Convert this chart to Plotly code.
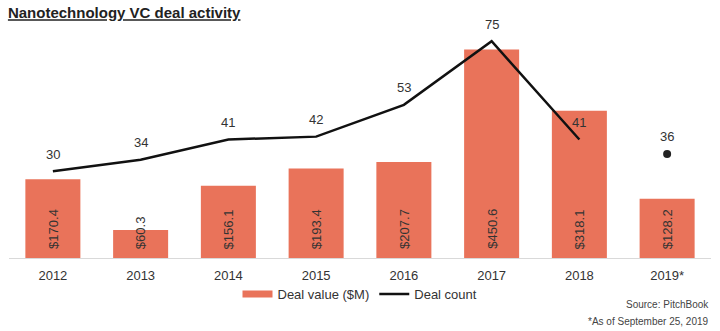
import plotly.graph_objects as go

years = ["2012", "2013", "2014", "2015", "2016", "2017", "2018", "2019*"]
deal_value = [170.4, 60.3, 156.1, 193.4, 207.7, 450.6, 318.1, 128.2]
deal_count = [30, 34, 41, 42, 53, 75, 41, 36]

BAR_COLOR = "#E9735A"
TEXT = "#333333"
FONT = "Liberation Sans, Arial, sans-serif"

fig = go.Figure()

fig.add_trace(go.Bar(
    x=years, y=deal_value, marker_color=BAR_COLOR, marker_line_width=0,
    showlegend=False, hoverinfo="skip", yaxis="y"))

# legend proxy for the bars (flat swatch)
fig.add_trace(go.Scatter(
    x=[None], y=[None], mode="lines", name="Deal value ($M)",
    line=dict(color=BAR_COLOR, width=7), yaxis="y"))

fig.add_trace(go.Scatter(
    x=years[:7], y=deal_count[:7], mode="lines", name="Deal count",
    line=dict(color="#111111", width=2.5), yaxis="y2"))

fig.add_trace(go.Scatter(
    x=years[7:], y=deal_count[7:], mode="markers", showlegend=False,
    marker=dict(color="#222222", size=8), yaxis="y2"))

annotations = []
for i, v in enumerate(deal_value):
    annotations.append(dict(
        x=i, y=0, xref="x", yref="y", text=f"${v:.1f}", textangle=-90,
        showarrow=False, yanchor="bottom", xanchor="center", yshift=7,
        font=dict(family=FONT, size=13, color=TEXT)))
for i, c in enumerate(deal_count):
    annotations.append(dict(
        x=i, y=c, xref="x", yref="y2", text=str(c), showarrow=False,
        yanchor="middle", xanchor="center", yshift=17,
        font=dict(family=FONT, size=13, color=TEXT)))

annotations.append(dict(
    x=1, y=-0.205, xref="paper", yref="paper", text="Source: PitchBook",
    showarrow=False, xanchor="right", yanchor="middle",
    font=dict(family=FONT, size=10, color="#444444")))
annotations.append(dict(
    x=1, y=-0.28, xref="paper", yref="paper", text="*As of September 25, 2019",
    showarrow=False, xanchor="right", yanchor="middle",
    font=dict(family=FONT, size=10, color="#444444")))

fig.update_layout(
    width=720, height=331,
    margin=dict(l=9, r=9, t=30, b=73, autoexpand=False),
    paper_bgcolor="white", plot_bgcolor="white",
    bargap=0.373,
    title=dict(
        text="Nanotechnology VC deal activity",
        x=0.011, xref="container", xanchor="left",
        y=1 - 13 / 331, yref="container", yanchor="middle",
        font=dict(family=FONT, size=15, color="#222222", weight="bold",
                  lineposition="under")),
    xaxis=dict(
        type="category", range=[-0.5, 7.5], showline=True, linecolor="#d9d9d9",
        linewidth=1, showgrid=False, zeroline=False, ticks="outside", ticklen=5,
        tickcolor="rgba(0,0,0,0)", automargin=False,
        tickfont=dict(family=FONT, size=13, color=TEXT)),
    yaxis=dict(range=[0, 492.8], visible=False, showgrid=False, zeroline=False),
    yaxis2=dict(range=[0, 78.9], overlaying="y", visible=False,
                showgrid=False, zeroline=False),
    legend=dict(
        orientation="h", x=0.5, xanchor="center", y=1 - 294 / 331,
        yref="container", yanchor="middle",
        font=dict(family=FONT, size=13, color=TEXT), bgcolor="rgba(0,0,0,0)"),
    annotations=annotations,
    showlegend=True,
)

fig.write_html("out.html")
